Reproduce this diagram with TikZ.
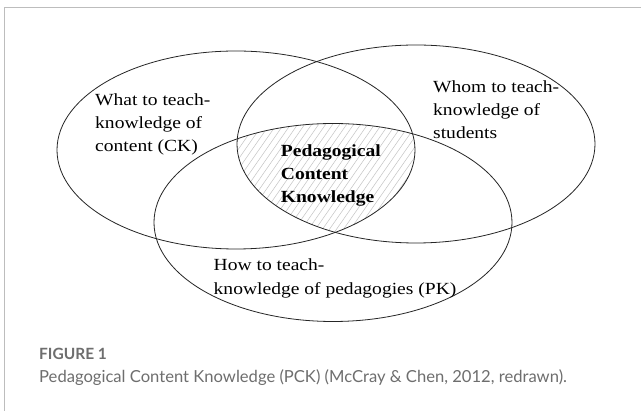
\documentclass[tikz,border=0pt]{standalone}
\usepackage{fontspec}
\setmainfont{Liberation Serif}
\newfontfamily\labelfont[FakeStretch=1.15]{Liberation Serif}
\newfontfamily\capfont{Lato}
\definecolor{framegray}{HTML}{BDBDBD}
\definecolor{capgray}{HTML}{6E6E6E}
\definecolor{hatchgray}{HTML}{C4C4C4}
\begin{document}
\begin{tikzpicture}[x=1pt,y=-1pt,
  setline/.style={draw=black!85,line width=0.8pt},
  hatchline/.style={draw=hatchgray,line width=0.5pt},
  label/.style={inner sep=0pt,anchor=base west,align=left,
    font={\labelfont\fontsize{17}{23.3}\selectfont}},
  figtag/.style={inner sep=0pt,anchor=base west,text=capgray,
    font={\capfont\bfseries\fontsize{15.5}{18}\selectfont}},
  captext/.style={inner sep=0pt,anchor=base west,text=capgray,
    font={\capfont\fontsize{16.6}{19}\selectfont}}]
\useasboundingbox (0,0) rectangle (641,411);
\fill[white] (0,0) rectangle (641,411);
% page frame
\draw[framegray,line width=1.8pt] (4.5,411) -- (4.5,7.5) -- (641,7.5);

% shared region of the three sets
\begin{scope}
  \clip (236,150) ellipse [x radius=179pt, y radius=99pt];
  \clip (416,144) ellipse [x radius=179pt, y radius=99pt];
  \clip (333,222.5) ellipse [x radius=179pt, y radius=99pt];
  \foreach \x in {140,147,...,420}
    \draw[hatchline] (\x,240) -- ++(90,-129);
\end{scope}

% the three sets
\draw[setline] (236,150) ellipse [x radius=179pt, y radius=99pt];
\draw[setline] (416,144) ellipse [x radius=179pt, y radius=99pt];
\draw[setline] (333,222.5) ellipse [x radius=179pt, y radius=99pt];

% labels (anchored at the baseline of their last line)
\node[label] (ck) at (95,151.7) {What to teach-\\knowledge of\\content (CK)};
\node[label] (sk) at (433,139) {Whom to teach-\\knowledge of\\students};
\node[label] (pk) at (213.5,294.3) {How to teach-\\knowledge of pedagogies (PK)};
\node[label,font={\labelfont\bfseries\fontsize{17}{23.3}\selectfont}] (pck) at (280.7,203) {Pedagogical\\Content\\Knowledge};

% caption
\node[figtag] (fig) at (39,360) {FIGURE 1};
\node[captext] (cap) at (39,383) {Pedagogical Content Knowledge (PCK) (McCray \& Chen, 2012, redrawn).};
\end{tikzpicture}
\end{document}
